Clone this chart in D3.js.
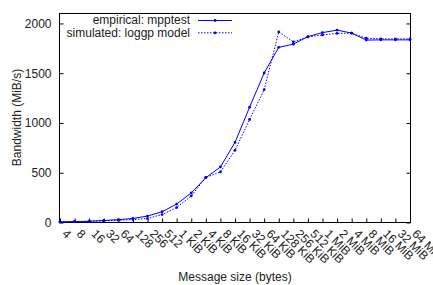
<!DOCTYPE html>
<html>
<head>
<meta charset="utf-8">
<script src="https://cdn.jsdelivr.net/npm/d3@7"></script>
<style>
  body { margin: 0; background: #fff; }
  svg text { font-family: "Liberation Sans", Arial, Helvetica, sans-serif; font-size: 12px; fill: #222; }
</style>
</head>
<body>
<svg id="chart" width="433" height="285"></svg>
<script>
// Message sizes along the x axis
var sizes = ["4", "8", "16", "32", "64", "128", "256", "512",
    "1 KiB", "2 KiB", "4 KiB", "8 KiB", "16 KiB", "32 KiB", "64 KiB",
    "128 KiB", "256 KiB", "512 KiB", "1 MiB", "2 MiB", "4 MiB",
    "8 MiB", "16 MiB", "32 MiB", "64 MiB"];

// Bandwidth in MiB/s
var empirical = [2, 4, 8, 15, 24, 35, 60, 103, 180, 292, 445, 553, 800,
    1153, 1497, 1755, 1787, 1863, 1903, 1928, 1898, 1828, 1830, 1830, 1830];
var simulated = [1, 3, 6, 11, 17, 24, 35, 75, 145, 262, 448, 503, 720,
    1030, 1330, 1910, 1810, 1860, 1880, 1895, 1897, 1847, 1840, 1840, 1840];

var yTicks = [0, 500, 1000, 1500, 2000];

var seriesNames = ["empirical: mpptest", "simulated: loggp model"];

(function () {
    // Plot frame
    var plotLeft = 60, plotRight = 410, plotTop = 13, plotBottom = 222;

    var svg = d3.select("#chart");

    var x = d3.scalePoint()
        .domain(sizes)
        .range([plotLeft, plotRight]);

    var y = d3.scaleLinear()
        .domain([0, 2100])
        .range([plotBottom, plotTop]);

    // Frame
    svg.append("rect")
        .attr("x", plotLeft - 0.5)
        .attr("y", plotTop + 0.5)
        .attr("width", plotRight - plotLeft + 1)
        .attr("height", plotBottom - plotTop)
        .attr("fill", "none")
        .attr("stroke", "#000")
        .attr("stroke-width", 1);

    // Y axis, ticks pointing inward
    var yAxis = svg.append("g")
        .attr("transform", "translate(" + (plotLeft - 0.5) + ",0.5)")
        .call(d3.axisLeft(y).tickValues(yTicks).tickFormat(d3.format("d"))
            .tickSizeInner(-4).tickSizeOuter(0).tickPadding(8));
    yAxis.select(".domain").remove();
    yAxis.selectAll("line").attr("stroke", "#000");
    yAxis.selectAll("text").style("font-size", "12px");

    // mirrored ticks on the right
    var yAxisR = svg.append("g")
        .attr("transform", "translate(" + (plotRight + 0.5) + ",0.5)")
        .call(d3.axisRight(y).tickValues(yTicks).tickSizeInner(-4).tickSizeOuter(0).tickFormat(""));
    yAxisR.select(".domain").remove();
    yAxisR.selectAll("line").attr("stroke", "#000");

    // X axis, ticks pointing inward and rotated labels
    var xAxis = svg.append("g")
        .attr("transform", "translate(0," + (plotBottom + 0.5) + ")")
        .call(d3.axisBottom(x).tickSizeInner(-4).tickSizeOuter(0));
    xAxis.select(".domain").remove();
    xAxis.selectAll("line").attr("stroke", "#000");
    xAxis.selectAll("text")
        .attr("y", 0)
        .attr("dy", 0)
        .attr("text-anchor", "start")
        .style("font-size", "12px")
        .attr("transform", "translate(1,12) rotate(45)");

    // Axis titles
    svg.append("text")
        .attr("x", (plotLeft + plotRight) / 2)
        .attr("y", 281)
        .attr("text-anchor", "middle")
        .text("Message size (bytes)");

    svg.append("text")
        .attr("transform", "translate(21," + ((plotTop + plotBottom) / 2) + ") rotate(-90)")
        .attr("text-anchor", "middle")
        .text("Bandwidth (MiB/s)");

    // Lines
    var line = d3.line()
        .x(function (d, i) { return x(sizes[i]); })
        .y(function (d) { return y(d); });

    var series = [
        { name: seriesNames[0], values: empirical, dash: null },
        { name: seriesNames[1], values: simulated, dash: "1.5,1.5" }
    ];

    var g = svg.selectAll(".series")
        .data(series)
        .enter().append("g")
        .attr("class", "series");

    g.append("path")
        .attr("d", function (d) { return line(d.values); })
        .attr("fill", "none")
        .attr("stroke", "#0000ff")
        .attr("stroke-width", 1)
        .attr("stroke-dasharray", function (d) { return d.dash; });

    g.selectAll("circle")
        .data(function (d) { return d.values; })
        .enter().append("circle")
        .attr("cx", function (d, i) { return x(sizes[i]); })
        .attr("cy", function (d) { return y(d); })
        .attr("r", 1.4)
        .attr("fill", "#0000ff");

    // Legend
    var legend = svg.selectAll(".legend")
        .data(series)
        .enter().append("g")
        .attr("class", "legend")
        .attr("transform", function (d, i) { return "translate(0," + (20 + i * 12.3) + ")"; });

    legend.append("text")
        .attr("x", 190)
        .attr("dy", "0.35em")
        .attr("text-anchor", "end")
        .text(function (d) { return d.name; });

    legend.append("line")
        .attr("x1", 198)
        .attr("x2", 232)
        .attr("y1", 0.5)
        .attr("y2", 0.5)
        .attr("stroke", "#0000ff")
        .attr("stroke-width", 1)
        .attr("stroke-dasharray", function (d) { return d.dash; });

    legend.append("circle")
        .attr("cx", 215)
        .attr("cy", 0.5)
        .attr("r", 1.4)
        .attr("fill", "#0000ff");
})();
</script>
</body>
</html>
